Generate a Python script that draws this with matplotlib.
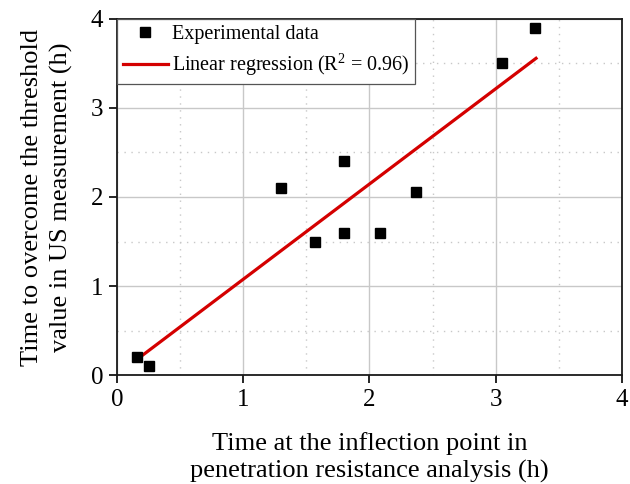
import numpy as np
import matplotlib
matplotlib.use("Agg")
from matplotlib import pyplot as plt
from matplotlib.ticker import MultipleLocator

# experimental points
x_exp = [0.16, 0.25, 1.30, 1.57, 1.80, 1.80, 2.08, 2.37, 3.05, 3.31]
y_exp = [0.20, 0.10, 2.10, 1.50, 2.40, 1.60, 1.60, 2.06, 3.50, 3.90]

# regression line as drawn (slope, intercept, x range)
fit_slope = 1.069
fit_intercept = 0.008
fit_x = [0.16, 3.32]

xlabel = "Time at the inflection point in\npenetration resistance analysis (h)"
ylabel = "Time to overcome the threshold\nvalue in US measurement (h)"

plt.rcParams['font.family'] = ['Liberation Serif', 'DejaVu Serif']
plt.rcParams['mathtext.fontset'] = 'custom'
plt.rcParams['mathtext.rm'] = 'Liberation Serif'
plt.rcParams['mathtext.it'] = 'Liberation Serif:italic'

fig = plt.figure(figsize=(6.3, 4.84), dpi=100)
ax = fig.add_axes([0.186, 0.225, 0.801, 0.736])

fx = np.array(fit_x)
ax.plot(fx, fit_slope * fx + fit_intercept, color="#d40000", lw=2.3,
        label=r"Linear regression (R$^\mathrm{2}$ = 0.96)", zorder=3)
ax.plot(x_exp, y_exp, ls="none", marker="s", ms=7.5, color="black",
        label="Experimental data", zorder=4)

ax.set_xlim(0, 4)
ax.set_ylim(0, 4)
ax.xaxis.set_major_locator(MultipleLocator(1))
ax.yaxis.set_major_locator(MultipleLocator(1))
ax.xaxis.set_minor_locator(MultipleLocator(0.5))
ax.yaxis.set_minor_locator(MultipleLocator(0.5))

ax.grid(which="major", color="#c8c8c8", lw=1.0)
ax.grid(which="minor", color="#c8c8c8", lw=1.0, ls=(0, (1, 4)))
ax.set_axisbelow(True)

ax.tick_params(which="major", direction="out", length=6, width=1.2,
               labelsize=18, pad=4)
ax.tick_params(which="minor", length=0)
for s in ax.spines.values():
    s.set_color("#1a1a1a")
    s.set_linewidth(1.3)

ax.set_xlabel(xlabel, fontsize=19, labelpad=15, linespacing=1.3)
ax.set_ylabel(ylabel, fontsize=19, labelpad=13, linespacing=1.4)

h, l = ax.get_legend_handles_labels()
leg = ax.legend(h[::-1], l[::-1], loc="upper left", fontsize=14.5,
                frameon=True, fancybox=False, borderaxespad=0,
                handlelength=2.2, handletextpad=0.2, borderpad=0.3,
                labelspacing=0.4, numpoints=1)
leg.get_frame().set_edgecolor("#555555")
leg.get_frame().set_linewidth(0.9)
leg.get_frame().set_alpha(1)

fig.savefig("out.png", dpi=100)
